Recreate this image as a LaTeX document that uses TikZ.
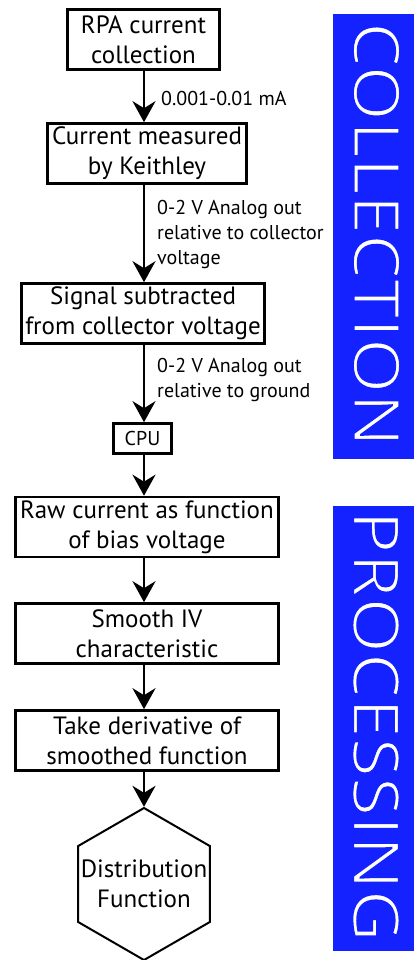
\documentclass[tikz,border=0pt]{standalone}
\usepackage{fontspec}
\setmainfont{PT Sans}
\newfontfamily\bandfont{Open Sans}
\usetikzlibrary{arrows.meta,shapes.geometric}
\definecolor{bandblue}{RGB}{20,34,255}
\newcommand{\thinglyphs}{\special{pdf:code 2 Tr 1.8 w 0.078 0.133 1 RG}}
\begin{document}
\begin{tikzpicture}[x=1pt,y=-1pt,
  box/.style={draw, line width=2.6pt, inner sep=0pt, align=center, minimum height=60pt,
    font=\fontsize{25}{30}\selectfont},
  arr/.style={line width=2.8pt, -{Stealth[length=21pt,width=23pt,inset=7pt]}},
  lab/.style={anchor=north west, align=left, inner sep=0pt, font=\fontsize{20}{25}\selectfont},
  band/.style={fill=bandblue, draw=none},
  bandtext/.style={text=white, rotate=-90, inner sep=0pt, font=\bandfont\fontsize{64}{64}\selectfont}]
\useasboundingbox (0,0) rectangle (414,960);
% collection boxes
\node[box, minimum width=152pt] (b1) at (143.5,39.5) {RPA current\\collection};
\node[box, minimum width=199pt] (b2) at (147,153.5) {Current measured\\by Keithley};
\node[box, minimum width=243pt] (b3) at (143,313.5) {Signal subtracted\\from collector voltage};
\node[box, minimum width=58pt, minimum height=30pt, font=\fontsize{20}{24}\selectfont] (cpu) at (142.5,438.5) {CPU};
% processing boxes
\node[box, minimum width=263pt] (b4) at (147,527) {Raw current as function\\of bias voltage};
\node[box, minimum width=263pt] (b5) at (147,633.5) {Smooth IV\\characteristic};
\node[box, minimum width=263pt] (b6) at (147,740.5) {Take derivative of\\smoothed function};
\node[draw, line width=2pt, regular polygon, regular polygon sides=6, shape border rotate=30,
  minimum size=152pt, inner sep=0pt,
  label={[align=center, inner sep=0pt, font=\fontsize{25}{30}\selectfont]center:Distribution\\Function}] (hex) at (144,884) {};
% connectors
\draw[arr] (b1.south -| hex.center) -- (b2.north -| hex.center);
\draw[arr] (b2.south -| hex.center) -- (b3.north -| hex.center);
\draw[arr] (b3.south -| hex.center) -- (cpu.north -| hex.center);
\draw[arr] (cpu.south -| hex.center) -- (b4.north -| hex.center);
\draw[arr] (b4.south -| hex.center) -- (b5.north -| hex.center);
\draw[arr] (b5.south -| hex.center) -- (b6.north -| hex.center);
\draw[arr] (b6.south -| hex.center) -- (hex.north);
% labels
\node[lab] (l1) at (161,91) {0.001-0.01 mA};
\node[lab] (l2) at (157,200) {0-2 V Analog out\\relative to collector\\voltage};
\node[lab] (l3) at (157,358) {0-2 V Analog out\\relative to ground};
% bands
\fill[band] (333,14) rectangle (414,459);
\fill[band] (333,506) rectangle (414,951);
\node[bandtext] (t1) at (376.5,234.5) {\thinglyphs\scalebox{1.11}[1]{COLLECTION}};
\node[bandtext] (t2) at (376,726) {\thinglyphs\scalebox{1.115}[1]{PROCESSING}};
\end{tikzpicture}
\end{document}
